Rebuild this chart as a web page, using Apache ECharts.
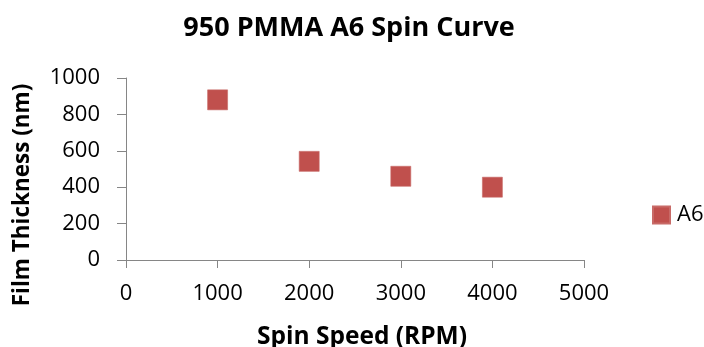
<!DOCTYPE html>
<html>
<head>
<meta charset="utf-8">
<script src="https://cdn.jsdelivr.net/npm/echarts@6/dist/echarts.min.js"></script>
<style>
  html, body { margin: 0; padding: 0; background: #fff; }
  #chart { width: 704px; height: 347px; }
</style>
</head>
<body>
<div id="chart"></div>
<script>
// Spin speed (RPM) vs. resulting film thickness (nm)
const spinSpeeds = [1000, 2000, 3000, 4000];
const thicknesses = [880, 542, 460, 400];
const seriesName = 'A6';

const FONT = '"Open Sans", "Liberation Sans", sans-serif';
const axisGray = '#868686';
const markerColor = '#C0504D';

const chart = echarts.init(document.getElementById('chart'), null, { renderer: 'canvas' });

chart.setOption({
  animation: false,
  backgroundColor: '#ffffff',
  title: {
    text: '950 PMMA A6 Spin Curve',
    left: 344,
    top: 10,
    textAlign: 'center',
    textStyle: { fontFamily: FONT, fontWeight: 'bold', fontSize: 27, color: '#000' }
  },
  legend: {
    left: 652,
    top: 204,
    padding: 0,
    itemWidth: 17,
    itemHeight: 17,
    itemGap: 7,
    data: [{ name: seriesName, icon: 'rect' }],
    textStyle: { fontFamily: FONT, fontSize: 22, color: '#000', padding: [0, 0, 0, 2] }
  },
  grid: { left: 126, right: 120, top: 78, bottom: 87, outerBoundsMode: 'none', containLabel: false },
  xAxis: {
    type: 'value',
    min: 0, max: 5000, interval: 1000,
    name: 'Spin Speed (RPM)',
    nameLocation: 'middle',
    nameGap: 65,
    nameTextStyle: { fontFamily: FONT, fontWeight: 'bold', fontSize: 24.5, color: '#000', padding: [0, 0, 0, 14] },
    axisLine: { lineStyle: { color: axisGray, width: 1 } },
    axisTick: { show: true, length: 8, lineStyle: { color: axisGray } },
    axisLabel: { fontFamily: FONT, fontSize: 22, color: '#000', margin: 23, formatter: v => String(v) },
    splitLine: { show: false }
  },
  yAxis: {
    type: 'value',
    min: 0, max: 1000, interval: 200,
    name: 'Film Thickness (nm)',
    nameLocation: 'middle',
    nameGap: 92,
    nameTextStyle: { fontFamily: FONT, fontWeight: 'bold', fontSize: 22.5, color: '#000', padding: [0, 52, 0, 0] },
    axisLine: { show: true, lineStyle: { color: axisGray, width: 1 } },
    axisTick: { show: true, length: 9, lineStyle: { color: axisGray } },
    axisLabel: { fontFamily: FONT, fontSize: 22, color: '#000', margin: 26, formatter: v => String(v) },
    splitLine: { show: false }
  },
  series: [{
    name: seriesName,
    type: 'scatter',
    symbol: 'rect',
    symbolSize: 20,
    itemStyle: { color: markerColor, borderColor: '#c86a67', borderWidth: 0.6, opacity: 1 },
    data: spinSpeeds.map((s, i) => [s, thicknesses[i]])
  }]
});
</script>
</body>
</html>
